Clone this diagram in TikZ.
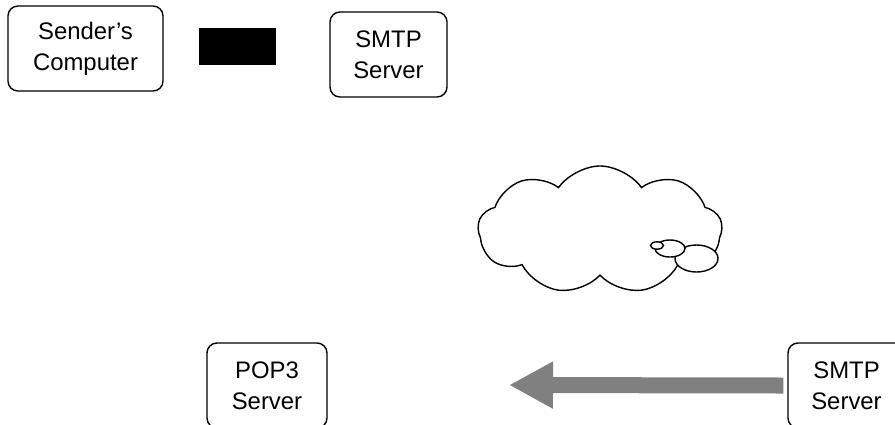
\documentclass[tikz,border=0pt]{standalone}
\usepackage{fontspec}
\setmainfont{Liberation Sans}
\usetikzlibrary{arrows.meta, positioning, shapes.symbols, shapes.geometric}
\definecolor{cgrey}{HTML}{808080}
\tikzset{
  every picture/.style={font=\fontsize{17}{22}\selectfont, line width=1pt},
  box/.style={draw=black, fill=white, rounded corners=0.25cm, align=center, inner sep=0pt,
    minimum height=2.125cm},
  blockbox/.style={draw=none, fill=black, inner sep=0pt, minimum width=1.925cm, minimum height=0.925cm},
  bigarrow/.style={-{Triangle[length=1.1cm, width=1.1cm]}, draw=cgrey, line width=0.4cm},
  netcloud/.style={cloud, draw=black, fill=white, cloud puffs=9, cloud puff arc=110, aspect=1.9,
    inner sep=0pt, minimum width=6.1cm, minimum height=3.2cm},
  bubble/.style={draw=black, fill=white, ellipse, inner sep=0pt},
}

\begin{document}
\begin{tikzpicture}[x=0.025cm, y=-0.025cm]
  \clip (0,0) rectangle (895,424);
  \useasboundingbox (0,0) rectangle (895,424);
  % top row: sending side
  \node[box, minimum width=3.875cm] (sender) at (85.5,48.5) {Sender's\\Computer};
  \node[blockbox] (blk) at (237.5,46.5) {};
  \node[box, minimum width=2.925cm] (smtpA) at (388.5,54.5) {SMTP\\Server};
  % the internet
  \node[netcloud] (net) at (600,230) {};
  \node[bubble, minimum width=1.075cm, minimum height=0.675cm] (bubC) at (696.5,258.5) {};
  \node[bubble, minimum width=0.75cm, minimum height=0.425cm] (bubB) at (670,248.5) {};
  \node[bubble, minimum width=0.325cm, minimum height=0.185cm] (bubA) at (657,245.5) {};
  % bottom row: receiving side
  \node[box, minimum width=3cm] (pop) at (267,385.5) {POP3\\Server};
  \node[box, minimum width=2.925cm] (smtpB) at (846.5,385.5) {SMTP\\Server};
  \coordinate (tip) at (509,385);
  \draw[bigarrow] ([xshift=-0.1cm]smtpB.west) -- (tip);
\end{tikzpicture}
\end{document}
